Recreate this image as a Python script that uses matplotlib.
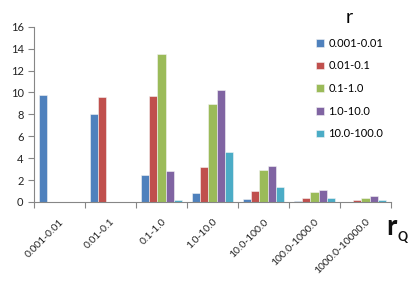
import matplotlib
matplotlib.use('Agg')
import matplotlib.pyplot as plt
import numpy as np

categories = ['0.001-0.01', '0.01-0.1', '0.1-1.0', '1.0-10.0',
              '10.0-100.0', '100.0-1000.0', '1000.0-10000.0']
series = ['0.001-0.01', '0.01-0.1', '0.1-1.0', '1.0-10.0', '10.0-100.0']
values = [
    [9.8, 8.0, 2.5, 0.85, 0.27, 0.08, 0.03],
    [0.0, 9.6, 9.7, 3.15, 1.0, 0.33, 0.15],
    [0.0, 0.02, 13.5, 8.9, 2.9, 0.94, 0.37],
    [0.0, 0.0, 2.8, 10.2, 3.25, 1.07, 0.52],
    [0.0, 0.0, 0.15, 4.6, 1.4, 0.4, 0.2],
]
colors = ['#4F81BD', '#C0504D', '#9BBB59', '#8064A2', '#4BACC6']

plt.rcParams['font.family'] = ['Lato', 'DejaVu Sans']

fig = plt.figure(figsize=(4.15, 2.83), dpi=100)
ax = fig.add_axes([34 / 415, 1 - 202 / 283, 357 / 415, 175.3 / 283])

x = np.arange(len(categories))
w = 0.157
for i, (name, vals) in enumerate(zip(series, values)):
    ax.bar(x + (i - 2) * w, vals, width=w, color=colors[i], label=name,
           edgecolor='#f4f4f4', linewidth=0.4)

ax.set_xlim(-0.5, len(categories) - 0.5)
ax.set_ylim(0, 16)
ax.set_yticks(np.arange(0, 17, 2))
ax.set_xticks(x)
ax.set_xticklabels(categories, rotation=45, ha='right', rotation_mode='anchor',
                   fontsize=7.5, color='#222222')
ax.set_xticks(np.arange(-0.5, len(categories)), minor=True)
ax.tick_params(axis='x', which='major', length=0, pad=11)
ax.tick_params(axis='x', which='minor', length=4, color='#868686', width=0.8)
ax.tick_params(axis='y', length=4, color='#868686', width=0.8,
               labelsize=8, labelcolor='#222222')

for s in ['top', 'right']:
    ax.spines[s].set_visible(False)
for s in ['left', 'bottom']:
    ax.spines[s].set_color('#868686')
    ax.spines[s].set_linewidth(0.8)

leg = ax.legend(loc='upper left', bbox_to_anchor=(306 / 415, 1 + 1 / 283),
                bbox_transform=fig.transFigure, frameon=False, fontsize=8,
                title='r', title_fontsize=14, labelspacing=1.05,
                handlelength=0.7, handleheight=0.7, handletextpad=0.4)

fig.text(386 / 415, 1 - 235 / 283, 'r', fontsize=20, fontweight='bold',
         ha='left', va='baseline', color='#111111')
fig.text(397 / 415, 1 - 241 / 283, 'Q', fontsize=9, fontweight='bold',
         ha='left', va='baseline', color='#111111')

fig.savefig('out.png', dpi=100)
